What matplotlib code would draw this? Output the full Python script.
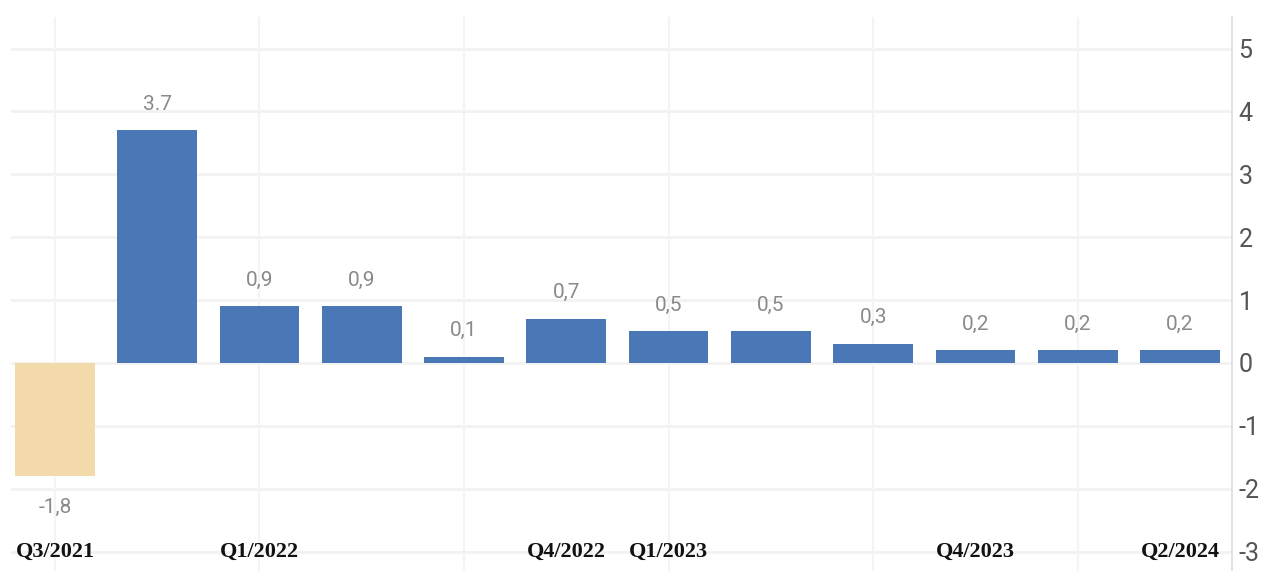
import matplotlib
matplotlib.use("Agg")
import matplotlib.pyplot as plt
from matplotlib import font_manager

categories = ["Q3/2021", "Q4/2021", "Q1/2022", "Q2/2022", "Q3/2022", "Q4/2022",
              "Q1/2023", "Q2/2023", "Q3/2023", "Q4/2023", "Q1/2024", "Q2/2024"]
values = [-1.8, 3.7, 0.9, 0.9, 0.1, 0.7, 0.5, 0.5, 0.3, 0.2, 0.2, 0.2]
value_labels = ["-1,8", "3.7", "0,9", "0,9", "0,1", "0,7", "0,5", "0,5", "0,3", "0,2", "0,2", "0,2"]
shown_ticks = ["Q3/2021", "Q1/2022", "Q4/2022", "Q1/2023", "Q4/2023", "Q2/2024"]
y_ticks = [-3, -2, -1, 0, 1, 2, 3, 4, 5]

names = {f.name for f in font_manager.fontManager.ttflist}
narrow = "Roboto" if "Roboto" in names else "DejaVu Sans"
serif = "Liberation Serif" if "Liberation Serif" in names else "DejaVu Serif"

BLUE = "#4a78b6"
BEIGE = "#f3daab"

fig = plt.figure(figsize=(12.61, 5.71), dpi=100)
ax = fig.add_axes([0.0087, 0.0, 0.968, 0.970])

x = list(range(len(categories)))
colors = [BEIGE if v < 0 else BLUE for v in values]
ax.bar(x, values, width=0.78, color=colors, zorder=3)

for xi, v, lab in zip(x, values, value_labels):
    if v >= 0:
        ax.annotate(lab, (xi, v), xytext=(0, 12), textcoords="offset points",
                    ha="center", va="bottom", fontsize=15, color="#8a8a8a",
                    family=narrow)
    else:
        ax.annotate(lab, (xi, v), xytext=(0, -16), textcoords="offset points",
                    ha="center", va="top", fontsize=15, color="#8a8a8a",
                    family=narrow)

ax.set_xlim(-0.43, 11.505)
ax.set_ylim(-3.31, 5.5)

ax.yaxis.tick_right()
ax.set_yticks(y_ticks)
ax.set_yticklabels([str(t) for t in y_ticks], fontsize=18, color="#555555",
                   family=narrow)
ax.tick_params(axis="y", length=0, pad=5)

tick_pos = [categories.index(c) for c in shown_ticks]
ax.set_xticks(tick_pos)
ax.set_xticklabels(shown_ticks, fontsize=16, fontweight="bold", color="#111111", family=serif)
ax.tick_params(axis="x", length=0, pad=-21)

# grid
for t in y_ticks:
    ax.axhline(t, color="#f2f2f2", lw=2, zorder=1)
for xi in x[::2]:
    ax.axvline(xi, color="#f4f4f4", lw=1.5, zorder=1)

for s in ["top", "left", "bottom"]:
    ax.spines[s].set_visible(False)
ax.spines["right"].set_color("#dddddd")
ax.spines["right"].set_linewidth(1.2)

fig.savefig("out.png", dpi=100, facecolor="white")
